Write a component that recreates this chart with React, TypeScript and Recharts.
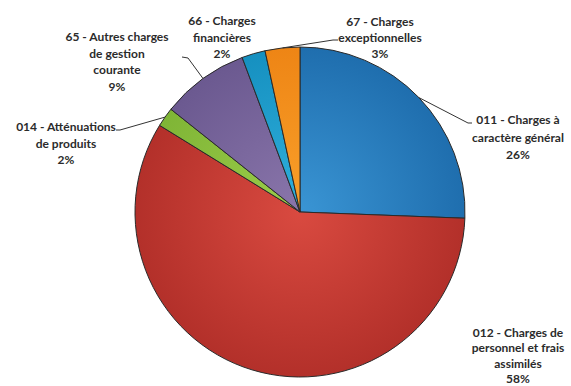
import { PieChart, Pie, Cell } from 'recharts'

const CATEGORIES = [
  '011 - Charges à caractère général',
  '012 - Charges de personnel et frais assimilés',
  '014 - Atténuations de produits',
  '65 - Autres charges de gestion courante',
  '66 - Charges financières',
  '67 - Charges exceptionnelles',
]
const VALUES = [25.6, 58.2, 1.9, 8.6, 2.3, 3.4]
const LABEL_LINES = [
  ['011 - Charges à', 'caractère général', '26%'],
  ['012 - Charges de', 'personnel et frais', 'assimilés', '58%'],
  ['014 - Atténuations', 'de produits', '2%'],
  ['65 - Autres charges', 'de gestion', 'courante', '9%'],
  ['66 - Charges', 'financières', '2%'],
  ['67 - Charges', 'exceptionnelles', '3%'],
]

const COLORS = [
  ['#3a95d4', '#1f6eae'],
  ['#d94a40', '#b3302a'],
  ['#9ccd4a', '#7fb536'],
  ['#8a76ab', '#6b5990'],
  ['#2fb0dc', '#1690c0'],
  ['#f9a02a', '#ee8515'],
]

// where each label sits (center x, first baseline, line gap) and where its leader ends
const LABEL_LAYOUT: { x: number; y: number; gap: number; line: number[][] }[] = [
  { x: 518, y: 124, gap: 17.5, line: [[468, 123], [472, 123]] },
  { x: 518, y: 337, gap: 15.3, line: [] },
  { x: 66, y: 131, gap: 16.5, line: [[120, 130], [116, 130]] },
  { x: 117, y: 41, gap: 16.7, line: [[188, 58], [182, 57]] },
  { x: 222, y: 25, gap: 16.5, line: [] },
  { x: 380, y: 26, gap: 16, line: [[333, 40], [338, 40]] },
]

const data = CATEGORIES.map((name, i) => ({ name, value: VALUES[i] }))

const RAD = Math.PI / 180

function renderLabel(props: any) {
  const { cx, cy, midAngle, outerRadius, index } = props
  const lay = LABEL_LAYOUT[index]
  const ex = cx + outerRadius * Math.cos(-midAngle * RAD)
  const ey = cy + outerRadius * Math.sin(-midAngle * RAD)
  const pts = [[ex, ey], ...lay.line]
  return (
    <g key={'lbl' + index}>
      {lay.line.length > 0 && (
        <polyline
          points={pts.map(p => p.join(',')).join(' ')}
          fill="none"
          stroke="#333"
          strokeWidth={1}
        />
      )}
      <text
        x={lay.x}
        y={lay.y}
        textAnchor="middle"
        fontFamily="Lato, 'Open Sans', sans-serif"
        fontWeight={700}
        fontSize={12}
        fill="#2b2b2b"
      >
        {LABEL_LINES[index].map((t, k) => (
          <tspan key={k} x={lay.x} dy={k === 0 ? 0 : lay.gap}>{t}</tspan>
        ))}
      </text>
    </g>
  )
}

export default function App() {
  return (
    <div style={{ position: 'absolute', left: 0, top: 0, width: 571, height: 386, background: '#fff' }}>
      <PieChart width={571} height={386} margin={{ top: 0, right: 0, bottom: 0, left: 0 }}>
        <defs>
          {COLORS.map((c, i) => (
            <radialGradient key={i} id={'g' + i} cx="300" cy="212" r="165" gradientUnits="userSpaceOnUse">
              <stop offset="0%" stopColor={c[0]} />
              <stop offset="100%" stopColor={c[1]} />
            </radialGradient>
          ))}
        </defs>
        <Pie
          data={data}
          dataKey="value"
          nameKey="name"
          cx={300}
          cy={212}
          outerRadius={165}
          startAngle={90}
          endAngle={-270}
          stroke="#2a2a2a"
          strokeWidth={1}
          label={renderLabel}
          labelLine={false}
          isAnimationActive={false}
        >
          {data.map((d, i) => (
            <Cell key={d.name} fill={`url(#g${i})`} />
          ))}
        </Pie>
      </PieChart>
    </div>
  )
}
